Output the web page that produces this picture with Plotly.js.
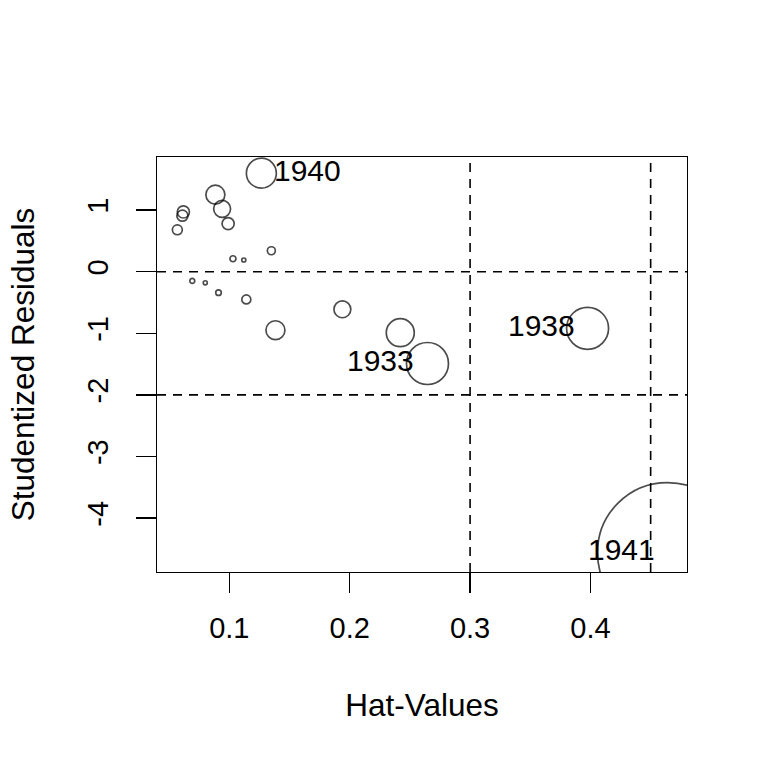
<!DOCTYPE html>
<html>
<head>
<meta charset="utf-8">
<script src="https://cdn.plot.ly/plotly-3.0.1.min.js"></script>
<style>
  html, body { margin: 0; padding: 0; background: #fff; }
  #plot { width: 768px; height: 768px; }
</style>
</head>
<body>
<div id="plot"></div>
<script>
// hat-values, studentized residuals and Cook's distances
var hatValues = [0.1266, 0.0884, 0.0940, 0.0990, 0.0618, 0.0610, 0.0568, 0.1030, 0.1120, 0.1349,
                 0.0692, 0.0800, 0.0910, 0.1141, 0.1383, 0.1939, 0.2420, 0.2646, 0.3976, 0.4640]
var studRes   = [1.60, 1.25, 1.02, 0.78, 0.97, 0.91, 0.68, 0.21, 0.19, 0.34,
                 -0.15, -0.18, -0.34, -0.45, -0.95, -0.61, -0.99, -1.49, -0.92, -4.56]
var cookD     = [0.110, 0.044, 0.035, 0.018, 0.018, 0.015, 0.012, 0.0044, 0.002, 0.0078,
                 0.003, 0.002, 0.0037, 0.0099, 0.044, 0.035, 0.096, 0.216, 0.216, 2.40]

var labelNames = ['1940', '1933', '1938', '1941']
var labelIdx = [0, 17, 18, 19]
var labelSide = ['right', 'left', 'left', 'left']

var hLines = [0, -2]
var vLines = [0.3, 0.45]

var font = 'Liberation Sans, Arial, Helvetica, sans-serif'
var maxCook = Math.max.apply(null, cookD)

var trace = {
  x: hatValues,
  y: studRes,
  mode: 'markers',
  type: 'scatter',
  cliponaxis: true,
  marker: {
    symbol: 'circle',
    color: 'rgba(0,0,0,0)',
    size: cookD,
    sizemode: 'area',
    sizeref: 2 * maxCook / (140 * 140),
    line: {color: 'black', width: 1.7}
  },
  hoverinfo: 'none'
}

var shapes = []
hLines.forEach(function (h) {
  shapes.push({type: 'line', xref: 'paper', x0: 0, x1: 1, yref: 'y', y0: h, y1: h,
    line: {color: 'black', width: 1.6, dash: '9px,7px'}})
})
vLines.forEach(function (v) {
  shapes.push({type: 'line', yref: 'paper', y0: 0, y1: 1, xref: 'x', x0: v, x1: v,
    line: {color: 'black', width: 1.6, dash: '9px,7px'}})
})

var annotations = labelNames.map(function (name, i) {
  var k = labelIdx[i]
  var right = labelSide[i] == 'right'
  return {
    x: hatValues[k], y: studRes[k], text: name, showarrow: false,
    xanchor: right ? 'left' : 'right', yanchor: 'middle',
    xshift: right ? 11 : -11, yshift: 3,
    font: {family: font, size: 30, color: 'black'}
  }
})

var layout = {
  width: 768,
  height: 768,
  margin: {l: 157, r: 81, t: 157, b: 196},
  paper_bgcolor: 'white',
  plot_bgcolor: 'white',
  showlegend: false,
  font: {family: font, size: 29, color: 'black'},
  xaxis: {
    range: [0.0399, 0.4802],
    tickvals: [0.1, 0.2, 0.3, 0.4],
    ticktext: ['0.1', '0.2', '0.3', '0.4'],
    ticks: 'outside', ticklen: 20, tickwidth: 1.4, tickcolor: 'black',
    showgrid: false, zeroline: false,
    showline: true, mirror: true, linecolor: 'black', linewidth: 1.4,
    ticklabelstandoff: 10,
    title: {text: 'Hat-Values', font: {size: 31.5}, standoff: 50}
  },
  yaxis: {
    range: [-4.875, 1.862],
    tickvals: [-4, -3, -2, -1, 0, 1],
    ticktext: ['-4', '-3', '-2', '-1', '0', '1'],
    tickangle: -90,
    ticks: 'outside', ticklen: 20, tickwidth: 1.4, tickcolor: 'black',
    showgrid: false, zeroline: false,
    showline: true, mirror: true, linecolor: 'black', linewidth: 1.4,
    ticklabelstandoff: 16,
    title: {text: 'Studentized Residuals', font: {size: 31.5}, standoff: 38}
  },
  shapes: shapes,
  annotations: annotations
}

Plotly.newPlot('plot', [trace], layout, {displayModeBar: false, staticPlot: true})
</script>
</body>
</html>
